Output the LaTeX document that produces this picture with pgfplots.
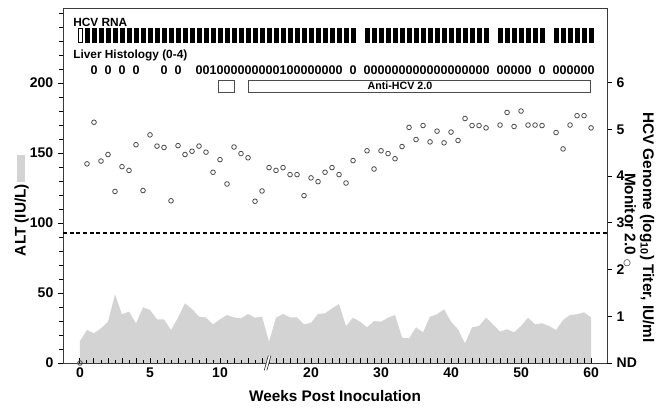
\documentclass[border=0pt]{standalone}
\usepackage{fontspec}
\setmainfont{Liberation Sans}
\newfontfamily\symfont{DejaVu Sans}
\usepackage{pgfplots}
\pgfplotsset{compat=1.18}
\definecolor{altgray}{HTML}{D3D3D3}
\definecolor{axisgray}{HTML}{3A3A3A}
\definecolor{ptgray}{HTML}{4A4A4A}

% narrow black bar for the HCV RNA row
\pgfdeclareplotmark{rnabar}{%
  \pgfpathrectangle{\pgfqpoint{-1.5pt}{-5.4pt}}{\pgfqpoint{3pt}{10.8pt}}%
  \pgfusepathqfillstroke}

\pgfplotsset{
  frame/.style={
    scale only axis, width=408pt, height=266.25pt,
    at={(0,0)}, anchor=south west,
    axis line style={axisgray, line width=0.7pt},
    tick style={black, line width=0.75pt},
    tick label style={font=\bfseries\fontsize{10.5}{12}\selectfont},
    /pgf/number format/assume math mode=true,
  },
  weeks/.style={frame,
    % broken time axis: half scale after week 13
    x coord trafo/.code={\pgfmathparse{ifthenelse(##1<=13,##1,13+0.5*(##1-13))}},
    xmin=-1.214, xmax=62.28,
  },
}

\begin{document}
\begin{tikzpicture}
% ALT area
\begin{axis}[weeks, ymin=0, ymax=253.6, hide axis]
\addplot[fill=altgray, draw=none] coordinates {
(0,15.7)(0.5,23.6)(1,21.2)(1.5,24.8)(2,29.5)(2.5,49)(3,34.8)(3.5,36.7)(4,28.3)(4.5,39.8)
(5,37.9)(5.5,31.2)(6,31.2)(6.5,23.6)(7,32.4)(7.5,42.6)(8,38.6)(8.5,33.1)(9,32.6)(9.5,27.6)
(10,31.2)(10.5,34.3)(11,32.6)(11.5,31.9)(12,35)(12.5,32.4)(13,33.1)
(14,15.2)(15,32.4)(16,35)(17,32.6)(18,32.6)(19,27.6)(20,28.8)(21,35)(22,35.5)(23,39)
(24,42.1)(25,26.4)(26,32.4)(27,29.5)(28,25.5)(29,30)(30,29.5)(31,32.4)(32,34.3)(33,18.1)
(34,17.6)(35,25.5)(36,21.9)(37,33.1)(38,34.8)(39,38.4)(40,29.5)(41,24.0)(42,14.0)(43,25.5)
(44,26.4)(45,32.4)(46,27.6)(47,22.4)(48,24.1)(49,21.9)(50,26.4)(51,32.4)(52,27.6)(53,28.4)
(54,26.4)(55,23.6)(56,30.7)(57,34.3)(58,34.8)(59,36.2)(60,32.6)
} \closedcycle;
\end{axis}

% frame, tick labels and tick marks (display units: week w>13 sits at 13+(w-13)/2)
\begin{axis}[frame,
  xmin=-1.214, xmax=37.64, ymin=0, ymax=253.6,
  axis x line*=bottom, axis y line*=left,
  xtick={0,5,10,16.5,21.5,26.5,31.5,36.5},
  xticklabels={0,5,10,20,30,40,50,60},
  ytick={0,50,...,200},
  xtick align=inside, ytick align=outside, major tick length=3.75pt,
  clip=false,
]
\draw[axisgray, line width=0.7pt] (rel axis cs:0,1) -- (rel axis cs:1,1);
% weekly ticks
\addplot[only marks, mark=|, mark size=1.875pt, mark options={black, line width=0.75pt}] coordinates {
(0,1.79)(1,1.79)(2,1.79)(3,1.79)(4,1.79)(5,1.79)(6,1.79)(7,1.79)(8,1.79)(9,1.79)(10,1.79)
(11,1.79)(12,1.79)(13,1.79)(13.5,1.79)(14,1.79)(14.5,1.79)(15,1.79)(15.5,1.79)(16,1.79)
(16.5,1.79)(17,1.79)(17.5,1.79)(18,1.79)(18.5,1.79)(19,1.79)(19.5,1.79)(20,1.79)(20.5,1.79)
(21,1.79)(21.5,1.79)(22,1.79)(22.5,1.79)(23,1.79)(23.5,1.79)(24,1.79)(24.5,1.79)(25,1.79)
(25.5,1.79)(26,1.79)(26.5,1.79)(27,1.79)(27.5,1.79)(28,1.79)(28.5,1.79)(29,1.79)(29.5,1.79)
(30,1.79)(30.5,1.79)(31,1.79)(31.5,1.79)(32,1.79)(32.5,1.79)(33,1.79)(33.5,1.79)(34,1.79)
(34.5,1.79)(35,1.79)(35.5,1.79)(36,1.79)(36.5,1.79)
};
% half-week ticks
\addplot[only marks, mark=|, mark size=1.1pt, mark options={black, line width=0.75pt}] coordinates {
(0.5,1.05)(1.5,1.05)(2.5,1.05)(3.5,1.05)(4.5,1.05)(5.5,1.05)(6.5,1.05)(7.5,1.05)(8.5,1.05)
(9.5,1.05)(10.5,1.05)(11.5,1.05)(12.5,1.05)
};
% ALT ticks, outside on the left
\addplot[only marks, mark=-, mark size=1.6pt, mark options={black, line width=0.75pt}] coordinates {
(-1.367,0)(-1.367,10)(-1.367,20)(-1.367,30)(-1.367,40)(-1.367,50)(-1.367,60)(-1.367,70)
(-1.367,80)(-1.367,90)(-1.367,100)(-1.367,110)(-1.367,120)(-1.367,130)(-1.367,140)
(-1.367,150)(-1.367,160)(-1.367,170)(-1.367,180)(-1.367,190)(-1.367,200)(-1.367,210)
(-1.367,220)(-1.367,230)(-1.367,240)(-1.367,250)
};
\end{axis}

\begin{axis}[weeks, ymin=0, ymax=253.6, hide axis]
\addplot[black, line width=1.1pt, dash pattern=on 3pt off 2pt] coordinates {(-1.214,93)(62.28,93)};
% HCV RNA positive samples
\addplot[only marks, mark=rnabar, mark options={fill=black, draw=black, line width=0.3pt}] coordinates {
(0.5,234)(1,234)(1.5,234)(2,234)(2.5,234)(3,234)(3.5,234)(4,234)(4.5,234)(5,234)
(5.5,234)(6,234)(6.5,234)(7,234)(7.5,234)(8,234)(8.5,234)(9,234)(9.5,234)(10,234)
(10.5,234)(11,234)(11.5,234)(12,234)(12.5,234)(13,234)
(14,234)(15,234)(16,234)(17,234)(18,234)(19,234)(20,234)(21,234)(22,234)(23,234)
(24,234)(25,234)(26,234)
(28,234)(29,234)(30,234)(31,234)(32,234)(33,234)(34,234)(35,234)(36,234)(37,234)
(38,234)(39,234)(40,234)(41,234)(42,234)(43,234)(44,234)(45,234)
(47,234)(48,234)(49,234)(50,234)(51,234)(52,234)(53,234)
(55,234)(56,234)(57,234)(58,234)(59,234)(60,234)
};
\addplot[only marks, mark=rnabar, mark options={fill=white, draw=black, line width=0.5pt}] coordinates {(0,234)};
% liver histology scores
\addplot[draw=none, mark=none, nodes near coords, point meta=explicit symbolic,
  every node near coord/.append style={anchor=center, inner sep=0pt,
    font=\bfseries\fontsize{9.4}{10}\selectfont}] coordinates {
(1,209.3)[0](2,209.3)[0](3,209.3)[0](4,209.3)[0](6,209.3)[0](7,209.3)[0]
(8.5,209.3)[0](9,209.3)[0](9.5,209.3)[1](10,209.3)[0](10.5,209.3)[0](11,209.3)[0]
(11.5,209.3)[0](12,209.3)[0](12.5,209.3)[0](13,209.3)[0]
(14,209.3)[0](15,209.3)[0](16,209.3)[1](17,209.3)[0](18,209.3)[0](19,209.3)[0]
(20,209.3)[0](21,209.3)[0](22,209.3)[0](23,209.3)[0](24,209.3)[0]
(26,209.3)[0]
(28,209.3)[0](29,209.3)[0](30,209.3)[0](31,209.3)[0](32,209.3)[0](33,209.3)[0]
(34,209.3)[0](35,209.3)[0](36,209.3)[0](37,209.3)[0](38,209.3)[0](39,209.3)[0]
(40,209.3)[0](41,209.3)[0](42,209.3)[0](43,209.3)[0](44,209.3)[0](45,209.3)[0]
(47,209.3)[0](48,209.3)[0](49,209.3)[0](50,209.3)[0](51,209.3)[0]
(53,209.3)[0]
(55,209.3)[0](56,209.3)[0](57,209.3)[0](58,209.3)[0](59,209.3)[0](60,209.3)[0]
};
% anti-HCV periods
\addplot[draw=black!70, line width=0.6pt, fill=white] coordinates {(9.9,193.6)(11,193.6)(11,202)(9.9,202)} -- cycle;
\addplot[draw=black!70, line width=0.6pt, fill=white] coordinates {(12,193.6)(59.86,193.6)(59.86,202)(12,202)} -- cycle;
\node[font=\bfseries\fontsize{8}{9}\selectfont] at (axis cs:32.7,197.9) {Anti-HCV 2.0};
\node[anchor=west, inner sep=0pt, font=\bfseries\fontsize{8.9}{10}\selectfont] at (axis cs:-0.5,243) {HCV RNA};
\node[anchor=west, inner sep=0pt, font=\bfseries\fontsize{8.9}{10}\selectfont] at (axis cs:-0.5,220) {Liver Histology (0-4)};
\coordinate (brk) at (axis cs:13.7,0);
\end{axis}

\begin{axis}[weeks,
  ymin=0, ymax=7.594,
  hide x axis, axis y line*=right,
  ytick={0,1,2,3,4,5,6}, yticklabels={ND,1,2,3,4,5,6},
  ytick align=outside, major tick length=3.75pt,
  clip=false,
]
% HCV genome titer (log10 IU/ml)
\addplot[only marks, mark=o, mark size=1.75pt, mark options={ptgray, line width=0.6pt}] coordinates {
(0,0)(0.5,4.26)(1,5.15)(1.5,4.32)(2,4.46)(2.5,3.67)(3,4.20)(3.5,4.12)(4,4.67)(4.5,3.69)
(5,4.88)(5.5,4.64)(6,4.61)(6.5,3.47)(7,4.65)(7.5,4.46)(8,4.53)(8.5,4.64)(9,4.51)(9.5,4.08)
(10,4.35)(10.5,3.83)(11,4.62)(11.5,4.48)(12,4.39)(12.5,3.46)(13,3.68)
(14,4.18)(15,4.12)(16,4.18)(17,4.03)(18,4.03)(19,3.58)(20,3.96)(21,3.88)(22,4.08)(23,4.18)
(24,4.03)(25,3.85)(26,4.33)(28,4.54)(29,4.15)(30,4.54)(31,4.48)(32,4.37)(33,4.63)(34,5.04)
(35,4.78)(36,5.08)(37,4.73)(38,4.96)(39,4.71)(40,4.94)(41,4.76)(42,5.23)(43,5.08)(44,5.08)
(45,5.03)(47,5.09)(48,5.36)(49,5.06)(50,5.39)(51,5.09)(52,5.09)(53,5.08)(55,4.93)(56,4.58)
(57,5.09)(58,5.29)(59,5.29)(60,5.03)
};
\end{axis}

% axis break mark
\fill[white] ([xshift=-2pt,yshift=-5pt]brk) -- ([xshift=1pt,yshift=5pt]brk) -- ([xshift=3pt,yshift=5pt]brk) -- ([xshift=0pt,yshift=-5pt]brk) -- cycle;
\draw[axisgray, line width=0.5pt] ([xshift=-2pt,yshift=-5.5pt]brk) -- ([xshift=1pt,yshift=5.5pt]brk);
\draw[axisgray, line width=0.5pt] ([xshift=0pt,yshift=-5.5pt]brk) -- ([xshift=3pt,yshift=5.5pt]brk);

% axis titles
\fill[altgray] (-34.5pt,135.75pt) rectangle (-28.5pt,156pt);
\node[rotate=90, font=\bfseries\fontsize{11.5}{13}\selectfont] at (-31pt,107.25pt) {ALT (IU/L)};
\node[rotate=-90, font=\bfseries\fontsize{11.5}{13}\selectfont] at (438pt,101.6pt) {HCV Genome (log\textsubscript{10}) Titer, IU/ml};
\node[rotate=-90, font=\bfseries\fontsize{11.5}{13}\selectfont] at (425.25pt,107.25pt) {Monitor 2.0 {\symfont\fontsize{6.5}{7}\selectfont ○}};
\node[font=\bfseries\fontsize{11.5}{13}\selectfont] at (204pt,-24.75pt) {Weeks Post Inoculation};

\pgfresetboundingbox
\path[use as bounding box] (-47.25pt,-33.75pt) rectangle (455.25pt,272.25pt);
\end{tikzpicture}
\end{document}
